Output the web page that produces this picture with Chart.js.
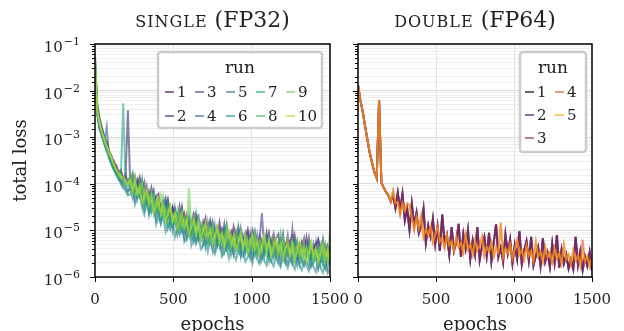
<!DOCTYPE html>
<html>
<head>
<meta charset="utf-8">
<script src="https://cdn.jsdelivr.net/npm/chart.js@4.4.1/dist/chart.umd.min.js"></script>
<style>
  html, body { margin: 0; padding: 0; background: #fff; overflow: hidden; }
  #wrap { position: relative; width: 624px; height: 331px; overflow: hidden; }
  canvas { position: absolute; left: 0; top: 0; }
</style>
</head>
<body>
<div id="wrap">
  <canvas id="single" width="624" height="336"></canvas>
  <canvas id="double" width="624" height="336"></canvas>
</div>
<script>
const epochs = [0, 15, 30, 45, 60, 75, 90, 105, 120, 135, 150, 165, 180, 195, 210, 225, 240, 255, 270, 285,
  300, 315, 330, 345, 360, 375, 390, 405, 420, 435, 450, 465, 480, 495, 510, 525, 540, 555, 570, 585,
  600, 615, 630, 645, 660, 675, 690, 705, 720, 735, 750, 765, 780, 795, 810, 825, 840, 855, 870, 885,
  900, 915, 930, 945, 960, 975, 990, 1005, 1020, 1035, 1050, 1065, 1080, 1095, 1110, 1125, 1140, 1155, 1170, 1185,
  1200, 1215, 1230, 1245, 1260, 1275, 1290, 1305, 1320, 1335, 1350, 1365, 1380, 1395, 1410, 1425, 1440, 1455, 1470, 1485,
  1500];

// total loss, stored as log10 values
const single1 = [-1.5, -2.3, -2.6, -2.8, -3.0, -3.1, -3.3, -3.4, -3.55, -3.6,
  -3.75, -3.7, -3.9, -3.8, -4.0, -3.93, -3.79, -4.15, -4.01, -3.86,
  -4.21, -4.36, -4.10, -4.35, -4.09, -4.33, -4.57, -4.31, -4.55, -4.48,
  -4.32, -4.75, -4.68, -4.51, -4.64, -4.87, -4.50, -4.82, -4.65, -4.97,
  -4.80, -4.92, -4.64, -4.76, -5.08, -5.00, -4.92, -4.74, -5.16, -4.88,
  -5.10, -5.01, -5.23, -4.84, -5.16, -4.97, -5.08, -5.30, -5.21, -4.92,
  -5.13, -5.04, -5.35, -5.26, -5.17, -4.98, -5.29, -5.40, -5.11, -5.22,
  -5.32, -5.23, -5.44, -5.25, -5.05, -5.36, -5.17, -5.47, -5.28, -5.39,
  -5.10, -5.50, -5.21, -5.32, -5.42, -5.13, -5.54, -5.34, -5.25, -5.46,
  -5.16, -5.57, -5.38, -5.48, -5.29, -5.20, -5.60, -5.41, -5.52, -5.32,
  -5.43];
const single2 = [-1.4, -2.4, -2.7, -2.85, -3.05, -3.2, -3.3, -3.5, -3.5, -3.7,
  -3.8, -3.75, -3.95, -3.85, -2.42, -4.03, -3.93, -4.05, -3.91, -4.26,
  -4.11, -3.96, -4.30, -4.45, -4.29, -4.43, -4.27, -4.21, -4.65, -4.58,
  -4.52, -4.35, -4.78, -4.51, -4.74, -4.67, -4.90, -4.52, -4.85, -4.77,
  -4.70, -5.02, -4.94, -4.66, -4.88, -5.10, -4.82, -5.04, -4.96, -4.78,
  -5.10, -5.21, -4.93, -5.04, -5.16, -4.87, -5.28, -5.10, -5.01, -5.22,
  -5.33, -4.94, -5.15, -5.26, -5.07, -5.38, -5.19, -5.00, -5.31, -5.42,
  -5.12, -5.23, -5.34, -5.05, -5.45, -5.26, -5.37, -5.17, -5.08, -5.49,
  -5.40, -5.30, -5.51, -5.22, -5.12, -5.43, -5.34, -5.54, -5.25, -5.36,
  -5.46, -5.17, -5.58, -5.38, -5.29, -5.50, -5.40, -5.21, -5.62, -5.52,
  -5.33];
const single3 = [-1.6, -2.5, -2.8, -2.9, -3.1, -3.15, -3.35, -3.45, -3.6, -3.65,
  -3.8, -3.85, -3.9, -4.0, -3.95, -3.83, -4.09, -3.85, -4.11, -4.06,
  -3.91, -4.26, -4.40, -4.15, -4.29, -4.13, -4.47, -4.61, -4.45, -4.38,
  -4.62, -4.35, -4.58, -4.81, -4.54, -4.77, -4.70, -4.52, -4.95, -4.67,
  -4.90, -4.82, -5.04, -4.76, -4.68, -5.00, -5.12, -4.94, -4.86, -5.08,
  -4.80, -5.01, -5.23, -5.14, -4.96, -5.07, -4.88, -5.30, -5.11, -5.22,
  -5.03, -5.34, -4.95, -5.16, -5.27, -5.08, -5.39, -5.20, -5.01, -5.32,
  -5.22, -4.63, -5.34, -5.15, -5.45, -5.26, -5.07, -5.37, -5.48, -5.19,
  -5.30, -5.40, -5.11, -5.52, -4.97, -5.43, -5.24, -5.54, -5.35, -5.16,
  -5.46, -5.37, -5.58, -5.28, -5.49, -5.20, -5.40, -5.61, -5.32, -5.52,
  -5.43];
const single4 = [-1.3, -2.5, -2.8, -3.0, -3.1, -2.78, -3.45, -3.55, -3.65, -3.8,
  -3.85, -3.95, -4.0, -4.05, -4.15, -4.13, -3.99, -4.35, -4.21, -4.06,
  -4.41, -4.56, -4.30, -4.55, -4.29, -4.53, -4.77, -4.51, -4.75, -4.68,
  -4.42, -4.95, -4.78, -4.91, -4.74, -5.07, -4.70, -5.02, -4.95, -5.17,
  -4.90, -5.12, -4.84, -5.26, -5.08, -5.20, -5.02, -5.34, -4.86, -5.28,
  -5.20, -5.41, -5.13, -5.34, -5.06, -5.47, -5.28, -5.40, -5.21, -5.52,
  -5.33, -5.14, -5.45, -5.56, -5.27, -5.48, -5.09, -5.60, -5.41, -5.52,
  -5.32, -5.63, -5.44, -5.25, -5.55, -5.66, -5.37, -5.57, -5.48, -5.69,
  -5.30, -5.60, -5.71, -5.42, -5.62, -5.53, -5.74, -5.34, -5.65, -5.76,
  -5.56, -5.47, -5.78, -5.68, -5.29, -5.80, -5.60, -5.71, -5.82, -5.52,
  -5.73];
const single5 = [-1.5, -2.55, -2.85, -2.95, -3.15, -3.3, -3.4, -3.55, -3.7, -3.75,
  -3.9, -3.95, -4.05, -4.1, -4.2, -4.03, -4.29, -4.05, -4.31, -4.06,
  -4.31, -4.46, -4.10, -4.65, -4.39, -4.63, -4.37, -4.61, -4.85, -4.58,
  -4.82, -4.55, -4.78, -5.01, -4.54, -4.97, -4.80, -4.92, -5.15, -4.77,
  -5.10, -5.02, -5.24, -4.96, -5.18, -4.90, -5.32, -5.14, -5.26, -5.08,
  -5.40, -4.91, -5.33, -5.24, -5.46, -5.17, -5.38, -5.10, -5.51, -5.32,
  -5.43, -5.24, -5.55, -5.16, -5.47, -5.38, -5.59, -5.30, -5.51, -5.12,
  -5.62, -5.43, -5.54, -5.35, -5.65, -5.26, -5.57, -5.47, -5.68, -5.39,
  -5.60, -5.70, -5.31, -5.52, -5.72, -5.63, -5.44, -5.74, -5.55, -5.36,
  -5.66, -5.77, -5.48, -5.68, -5.59, -5.80, -5.40, -5.71, -5.62, -5.82,
  -5.53];
const single6 = [-1.2, -2.5, -2.8, -3.0, -3.15, -3.3, -3.45, -3.6, -3.7, -3.8,
  -3.9, -4.0, -4.1, -4.15, -4.25, -4.23, -4.09, -4.45, -4.31, -4.16,
  -4.51, -4.66, -4.40, -4.65, -4.59, -4.43, -4.87, -4.71, -4.85, -4.68,
  -5.02, -4.85, -4.98, -4.71, -5.14, -4.97, -5.10, -4.92, -5.25, -5.17,
  -4.90, -5.32, -5.14, -5.26, -5.08, -5.40, -5.32, -5.24, -5.46, -5.18,
  -5.40, -5.51, -5.33, -5.14, -5.56, -5.47, -5.38, -5.60, -5.31, -5.52,
  -5.63, -5.44, -5.55, -5.36, -5.67, -5.58, -5.49, -5.70, -5.31, -5.62,
  -5.72, -5.53, -5.64, -5.75, -5.45, -5.66, -5.77, -5.57, -5.68, -5.79,
  -5.50, -5.70, -5.81, -5.62, -5.72, -5.83, -5.54, -5.74, -5.85, -5.66,
  -5.76, -5.87, -5.68, -5.78, -5.89, -5.60, -5.80, -5.91, -5.72, -5.92,
  -5.83];
const single7 = [-1.4, -2.45, -2.75, -2.9, -3.05, -3.25, -3.35, -3.5, -3.6, -3.75,
  -3.8, -3.9, -2.27, -4.0, -4.05, -3.93, -4.19, -3.95, -4.21, -3.96,
  -4.41, -4.26, -4.40, -4.25, -4.59, -4.23, -4.57, -4.51, -4.75, -4.48,
  -4.72, -4.45, -4.88, -4.71, -4.84, -4.67, -5.00, -4.62, -4.95, -4.87,
  -5.10, -4.82, -5.04, -4.66, -5.18, -5.00, -5.12, -4.94, -5.26, -4.88,
  -5.20, -5.11, -5.33, -5.04, -5.26, -4.97, -5.38, -5.20, -5.31, -5.12,
  -5.43, -4.94, -5.35, -5.26, -5.47, -5.18, -5.39, -5.10, -5.51, -5.32,
  -5.42, -5.23, -5.54, -5.15, -5.45, -5.36, -5.57, -5.27, -5.48, -5.09,
  -5.60, -5.40, -5.51, -5.32, -5.62, -5.23, -5.54, -5.44, -5.65, -5.36,
  -5.56, -5.27, -5.68, -5.48, -5.59, -5.40, -5.70, -5.21, -5.62, -5.52,
  -5.73];
const single8 = [-1.3, -2.4, -2.75, -2.95, -3.1, -3.2, -3.35, -3.5, -3.6, -3.7,
  -3.85, -3.8, -3.95, -4.05, -3.95, -4.03, -3.79, -4.25, -4.11, -4.26,
  -3.91, -4.46, -4.20, -4.45, -4.39, -4.23, -4.67, -4.41, -4.65, -4.28,
  -4.62, -4.85, -4.58, -4.71, -4.84, -4.57, -5.00, -4.82, -4.75, -4.97,
  -4.60, -5.12, -4.94, -5.06, -4.78, -5.20, -4.92, -5.14, -5.06, -5.28,
  -4.90, -5.21, -5.03, -5.34, -5.16, -5.27, -4.88, -5.40, -5.21, -5.12,
  -5.33, -5.44, -5.05, -5.36, -5.27, -5.48, -5.19, -5.40, -5.11, -5.52,
  -5.32, -5.43, -5.24, -5.55, -5.15, -5.46, -5.37, -5.57, -5.28, -5.49,
  -5.10, -5.60, -5.41, -5.52, -5.32, -5.63, -5.24, -5.54, -5.45, -5.66,
  -5.36, -5.57, -5.28, -5.68, -5.49, -5.60, -5.40, -5.71, -5.32, -5.62,
  -5.53];
const single9 = [-1.5, -2.5, -2.7, -2.9, -3.05, -3.2, -3.35, -3.45, -3.6, -3.7,
  -3.8, -3.85, -3.9, -4.0, -4.05, -3.83, -4.09, -3.85, -4.21, -4.16,
  -4.01, -4.36, -4.20, -4.35, -4.19, -4.53, -4.37, -4.51, -4.25, -4.68,
  -4.52, -4.65, -4.48, -4.81, -4.64, -4.77, -4.60, -4.92, -4.75, -4.87,
  -4.10, -4.92, -4.84, -5.06, -4.78, -5.00, -4.92, -5.14, -4.86, -5.08,
  -5.00, -5.21, -4.93, -5.14, -5.06, -5.27, -4.98, -5.20, -5.11, -5.32,
  -5.03, -5.24, -5.15, -5.36, -5.07, -5.28, -5.19, -5.40, -5.11, -5.32,
  -5.22, -5.43, -5.14, -5.35, -5.25, -5.46, -5.17, -5.37, -5.28, -5.49,
  -5.20, -5.40, -5.31, -5.52, -5.22, -5.43, -5.34, -5.54, -5.25, -5.46,
  -5.36, -5.57, -5.28, -5.48, -5.39, -5.60, -5.30, -5.51, -5.42, -5.62,
  -5.03];
const single10 = [-1.35, -2.45, -2.7, -2.9, -3.05, -3.2, -3.3, -3.45, -3.55, -3.7,
  -3.75, -3.85, -3.85, -3.95, -4.0, -3.93, -4.19, -3.95, -4.21, -4.06,
  -4.41, -4.26, -4.10, -4.45, -4.29, -4.63, -4.47, -4.31, -4.65, -4.48,
  -4.82, -4.65, -4.48, -4.81, -4.64, -4.97, -4.80, -4.62, -4.95, -4.77,
  -5.10, -4.92, -4.74, -5.06, -4.88, -5.20, -5.02, -4.84, -5.16, -4.98,
  -5.30, -5.11, -4.93, -5.24, -5.06, -5.37, -5.18, -5.00, -5.31, -5.12,
  -5.43, -5.24, -5.05, -5.36, -5.17, -5.48, -5.29, -5.10, -5.41, -5.22,
  -5.52, -5.33, -5.14, -5.45, -5.25, -5.56, -5.37, -5.17, -5.48, -5.29,
  -5.60, -5.40, -5.21, -5.52, -5.32, -5.63, -5.44, -5.24, -5.55, -5.36,
  -5.66, -5.47, -5.28, -5.58, -5.39, -5.70, -5.50, -5.31, -5.62, -5.42,
  -5.73];

// FP64 runs 1-3 coincide, as do runs 4-5 (apart from one late spike of run 4)
const double1 = [-1.88, -2.2, -2.45, -2.75, -3.05, -3.33, -3.55, -3.75, -3.88, -2.2,
  -3.98, -4.08, -4.18, -4.25, -4.38, -4.25, -4.52, -4.19, -4.56, -4.22,
  -4.78, -4.53, -4.98, -4.43, -4.88, -4.62, -5.06, -4.90, -4.54, -5.27,
  -4.90, -5.13, -4.76, -5.29, -4.92, -5.44, -4.66, -5.28, -5.10, -5.52,
  -4.93, -5.44, -5.25, -4.86, -5.57, -5.08, -5.39, -5.00, -5.61, -5.22,
  -5.52, -4.93, -5.63, -5.34, -5.14, -5.55, -5.05, -5.66, -5.26, -4.87,
  -5.57, -5.38, -5.68, -5.09, -5.49, -5.20, -5.70, -5.31, -5.61, -5.02,
  -5.72, -5.43, -5.23, -5.64, -5.14, -5.75, -5.55, -5.36, -5.76, -5.17,
  -5.67, -5.48, -5.78, -5.29, -5.69, -5.10, -5.80, -5.41, -5.71, -5.52,
  -5.82, -5.63, -5.83, -5.14, -5.74, -5.45, -5.85, -5.56, -5.76, -5.47,
  -5.87];
const double2 = [-1.88, -2.2, -2.45, -2.75, -3.05, -3.33, -3.55, -3.75, -3.88, -2.2,
  -3.98, -4.08, -4.18, -4.25, -4.38, -4.25, -4.52, -4.19, -4.56, -4.22,
  -4.78, -4.53, -4.98, -4.43, -4.88, -4.62, -5.06, -4.90, -4.54, -5.27,
  -4.90, -5.13, -4.76, -5.29, -4.92, -5.44, -4.66, -5.28, -5.10, -5.52,
  -4.93, -5.44, -5.25, -4.86, -5.57, -5.08, -5.39, -5.00, -5.61, -5.22,
  -5.52, -4.93, -5.63, -5.34, -5.14, -5.55, -5.05, -5.66, -5.26, -4.87,
  -5.57, -5.38, -5.68, -5.09, -5.49, -5.20, -5.70, -5.31, -5.61, -5.02,
  -5.72, -5.43, -5.23, -5.64, -5.14, -5.75, -5.55, -5.36, -5.76, -5.17,
  -5.67, -5.48, -5.78, -5.29, -5.69, -5.10, -5.80, -5.41, -5.71, -5.52,
  -5.82, -5.63, -5.83, -5.14, -5.74, -5.45, -5.85, -5.56, -5.76, -5.47,
  -5.87];
const double3 = [-1.88, -2.2, -2.45, -2.75, -3.05, -3.33, -3.55, -3.75, -3.88, -2.2,
  -3.98, -4.08, -4.18, -4.25, -4.38, -4.25, -4.52, -4.19, -4.56, -4.22,
  -4.78, -4.53, -4.98, -4.43, -4.88, -4.62, -5.06, -4.90, -4.54, -5.27,
  -4.90, -5.13, -4.76, -5.29, -4.92, -5.44, -4.66, -5.28, -5.10, -5.52,
  -4.93, -5.44, -5.25, -4.86, -5.57, -5.08, -5.39, -5.00, -5.61, -5.22,
  -5.52, -4.93, -5.63, -5.34, -5.14, -5.55, -5.05, -5.66, -5.26, -4.87,
  -5.57, -5.38, -5.68, -5.09, -5.49, -5.20, -5.70, -5.31, -5.61, -5.02,
  -5.72, -5.43, -5.23, -5.64, -5.14, -5.75, -5.55, -5.36, -5.76, -5.17,
  -5.67, -5.48, -5.78, -5.29, -5.69, -5.10, -5.80, -5.41, -5.71, -5.52,
  -5.82, -5.63, -5.83, -5.14, -5.74, -5.45, -5.85, -5.56, -5.76, -5.47,
  -5.87];
const double4 = [-1.88, -2.2, -2.45, -2.75, -3.05, -3.33, -3.55, -3.75, -3.88, -2.2,
  -3.98, -4.08, -4.18, -4.25, -4.38, -4.15, -4.42, -4.39, -4.66, -4.42,
  -4.58, -4.43, -4.45, -4.73, -4.98, -4.72, -4.96, -4.70, -5.14, -4.97,
  -5.10, -4.93, -5.26, -5.09, -4.92, -5.24, -5.16, -5.38, -5.10, -5.32,
  -5.23, -5.44, -5.15, -5.36, -5.27, -5.48, -5.09, -5.40, -5.31, -5.52,
  -5.22, -5.43, -5.33, -5.14, -5.54, -5.35, -5.45, -5.26, -5.56, -5.37,
  -5.47, -4.84, -5.58, -5.39, -5.49, -5.30, -5.60, -5.41, -5.21, -5.52,
  -5.42, -5.63, -5.33, -5.54, -5.44, -5.65, -5.25, -5.56, -5.46, -5.67,
  -5.37, -5.58, -5.48, -5.69, -5.39, -5.60, -5.50, -5.71, -5.31, -5.62,
  -5.52, -5.73, -5.43, -5.64, -5.54, -5.75, -5.20, -5.66, -5.56, -5.77,
  -5.57];
const double5 = [-1.88, -2.2, -2.45, -2.75, -3.05, -3.33, -3.55, -3.75, -3.88, -2.2,
  -3.98, -4.08, -4.18, -4.25, -4.38, -4.15, -4.42, -4.39, -4.66, -4.42,
  -4.58, -4.43, -4.45, -4.73, -4.98, -4.72, -4.96, -4.70, -5.14, -4.97,
  -5.10, -4.93, -5.26, -5.09, -4.92, -5.24, -5.16, -5.38, -5.10, -5.32,
  -5.23, -5.44, -5.15, -5.36, -5.27, -5.48, -5.09, -5.40, -5.31, -5.52,
  -5.22, -5.43, -5.33, -5.14, -5.54, -5.35, -5.45, -5.26, -5.56, -5.37,
  -5.47, -4.84, -5.58, -5.39, -5.49, -5.30, -5.60, -5.41, -5.21, -5.52,
  -5.42, -5.63, -5.33, -5.54, -5.44, -5.65, -5.25, -5.56, -5.46, -5.67,
  -5.37, -5.58, -5.48, -5.69, -5.39, -5.60, -5.50, -5.71, -5.31, -5.62,
  -5.52, -5.73, -5.43, -5.64, -5.54, -5.75, -5.45, -5.66, -5.56, -5.77,
  -5.57];

const singleRuns = [single1, single2, single3, single4, single5, single6, single7, single8, single9, single10];
const doubleRuns = [double1, double2, double3, double4, double5];

// viridis / inferno samples
const singleColors = ['#440154', '#482475', '#414487', '#355f8d', '#2a788e', '#21918c', '#22a884', '#44bf70', '#7ad151', '#bddf26'];
const doubleColors = ['#000004', '#420a68', '#932667', '#dd513a', '#fca50a'];

const xTickValues = [0, 500, 1000, 1500];
const yDecades = [-6, -5, -4, -3, -2, -1];

const FONT = "'DejaVu Serif', serif";
const TEXT = '#222';

function rgba(hex, a) {
  const n = parseInt(hex.slice(1), 16);
  return `rgba(${n >> 16}, ${(n >> 8) & 255}, ${n & 255}, ${a})`;
}
const isDecade = v => Math.abs(Math.log10(v) - Math.round(Math.log10(v))) < 1e-6;

// frame, tick marks, texts and the in-axes legend
const panelPlugin = {
  id: 'panel',
  afterDatasetsDraw(chart, args, opts) {
    const { ctx, chartArea: a } = chart;
    const xs = chart.scales.x, ys = chart.scales.y;
    const cx = (a.left + a.right) / 2;
    ctx.save();

    ctx.strokeStyle = '#000';
    ctx.lineWidth = 1;
    ys.ticks.forEach(t => {
      const py = Math.round(ys.getPixelForValue(t.value)) + 0.5;
      const len = isDecade(t.value) ? 5 : 3;
      ctx.beginPath(); ctx.moveTo(a.left - len, py); ctx.lineTo(a.left, py); ctx.stroke();
    });
    xTickValues.forEach(v => {
      const px = Math.round(xs.getPixelForValue(v)) + 0.5;
      ctx.beginPath(); ctx.moveTo(px, a.bottom); ctx.lineTo(px, a.bottom + 5); ctx.stroke();
    });
    ctx.lineWidth = 1.5;
    ctx.strokeRect(a.left, a.top, a.right - a.left, a.bottom - a.top);

    ctx.fillStyle = TEXT;
    ctx.textBaseline = 'alphabetic';
    ctx.font = `15px ${FONT}`;
    ctx.textAlign = 'center';
    xTickValues.forEach(v => ctx.fillText(String(v), xs.getPixelForValue(v), 304));

    if (opts.yLabels) {
      yDecades.forEach(e => {
        const py = ys.getPixelForValue(Math.pow(10, e));
        const sup = '\u2212' + Math.abs(e);
        ctx.textAlign = 'right';
        ctx.font = `11px ${FONT}`;
        const w = ctx.measureText(sup).width;
        ctx.fillText(sup, 80, py + 1);
        ctx.font = `15px ${FONT}`;
        ctx.fillText('10', 80 - w - 1, py + 8);
      });
      ctx.save();
      ctx.translate(26, (a.top + a.bottom) / 2);
      ctx.rotate(-Math.PI / 2);
      ctx.textAlign = 'center';
      ctx.font = `18px ${FONT}`;
      ctx.fillText('total loss', 0, 0);
      ctx.restore();
    }

    ctx.textAlign = 'center';
    ctx.font = `18px ${FONT}`;
    ctx.fillText('epochs', cx, 330);

    // title: small caps word + normal part
    ctx.textAlign = 'left';
    ctx.font = `16px ${FONT}`;
    ctx.letterSpacing = '1px';
    const w1 = ctx.measureText(opts.titleCaps).width;
    ctx.letterSpacing = '0px';
    ctx.font = `22px ${FONT}`;
    const w2 = ctx.measureText(opts.titleRest).width;
    const tx = cx - (w1 + w2) / 2;
    ctx.font = `16px ${FONT}`;
    ctx.letterSpacing = '1px';
    ctx.fillText(opts.titleCaps, tx, 27);
    ctx.letterSpacing = '0px';
    ctx.font = `22px ${FONT}`;
    ctx.fillText(opts.titleRest, tx + w1, 27);

    // legend
    const L = opts.legend;
    ctx.beginPath();
    ctx.roundRect(L.x0, L.y0, L.x1 - L.x0, L.y1 - L.y0, 3);
    ctx.fillStyle = 'rgba(255,255,255,0.85)';
    ctx.fill();
    ctx.lineWidth = 2.5;
    ctx.strokeStyle = '#cccccc';
    ctx.stroke();
    ctx.fillStyle = TEXT;
    ctx.textBaseline = 'middle';
    ctx.textAlign = 'center';
    ctx.font = `17px ${FONT}`;
    ctx.fillText('run', (L.x0 + L.x1) / 2, L.titleY);
    ctx.font = `15px ${FONT}`;
    ctx.textAlign = 'left';
    chart.data.datasets.forEach((ds, k) => {
      const hx = L.cols[Math.floor(k / L.rows.length)];
      const hy = L.rows[k % L.rows.length];
      ctx.strokeStyle = ds.borderColor;
      ctx.lineWidth = 2;
      ctx.beginPath(); ctx.moveTo(hx, hy); ctx.lineTo(hx + 9, hy); ctx.stroke();
      ctx.fillText(ds.label, hx + 12, hy + 1);
    });
    ctx.restore();
  }
};

function makeChart(id, runs, colors, panel, padding, yWidth) {
  return new Chart(document.getElementById(id), {
    type: 'line',
    data: {
      datasets: runs.map((logs, k) => ({
        label: String(k + 1),
        data: logs.map((v, i) => ({ x: epochs[i], y: Math.pow(10, v) })),
        borderColor: rgba(colors[k], 0.6),
        borderWidth: 2,
        pointRadius: 0,
        tension: 0,
        order: runs.length - k
      }))
    },
    options: {
      responsive: false,
      animation: false,
      events: [],
      layout: { padding },
      plugins: { legend: { display: false }, tooltip: { enabled: false }, panel },
      scales: {
        x: {
          type: 'linear', min: 0, max: 1500,
          ticks: { stepSize: 500, display: false },
          grid: {
            drawTicks: false,
            color: c => (c.tick && (c.tick.value === 500 || c.tick.value === 1000)) ? '#e2e2e2' : 'rgba(0,0,0,0)'
          },
          border: { display: false },
          afterFit: s => { s.height = 59; }
        },
        y: {
          type: 'logarithmic', min: 1e-6, max: 1e-1,
          ticks: { display: false, autoSkip: false },
          grid: {
            drawTicks: false,
            color: c => (c.tick && isDecade(c.tick.value)) ? '#dcdcdc' : '#eeeeee'
          },
          border: { display: false },
          afterFit: s => { s.width = yWidth; }
        }
      }
    },
    plugins: [panelPlugin]
  });
}

makeChart('single', singleRuns, singleColors, {
  yLabels: true, titleCaps: 'SINGLE', titleRest: ' (FP32)',
  legend: { x0: 158, y0: 52, x1: 322, y1: 128, titleY: 69, cols: [165, 195, 226, 256, 286], rows: [92, 116] }
}, { top: 44, right: 294, bottom: 0, left: 0 }, 95);

makeChart('double', doubleRuns, doubleColors, {
  yLabels: false, titleCaps: 'DOUBLE', titleRest: ' (FP64)',
  legend: { x0: 520, y0: 52, x1: 586, y1: 152, titleY: 69, cols: [525, 555], rows: [92, 115, 138] }
}, { top: 44, right: 32, bottom: 0, left: 340 }, 18);
</script>
</body>
</html>
